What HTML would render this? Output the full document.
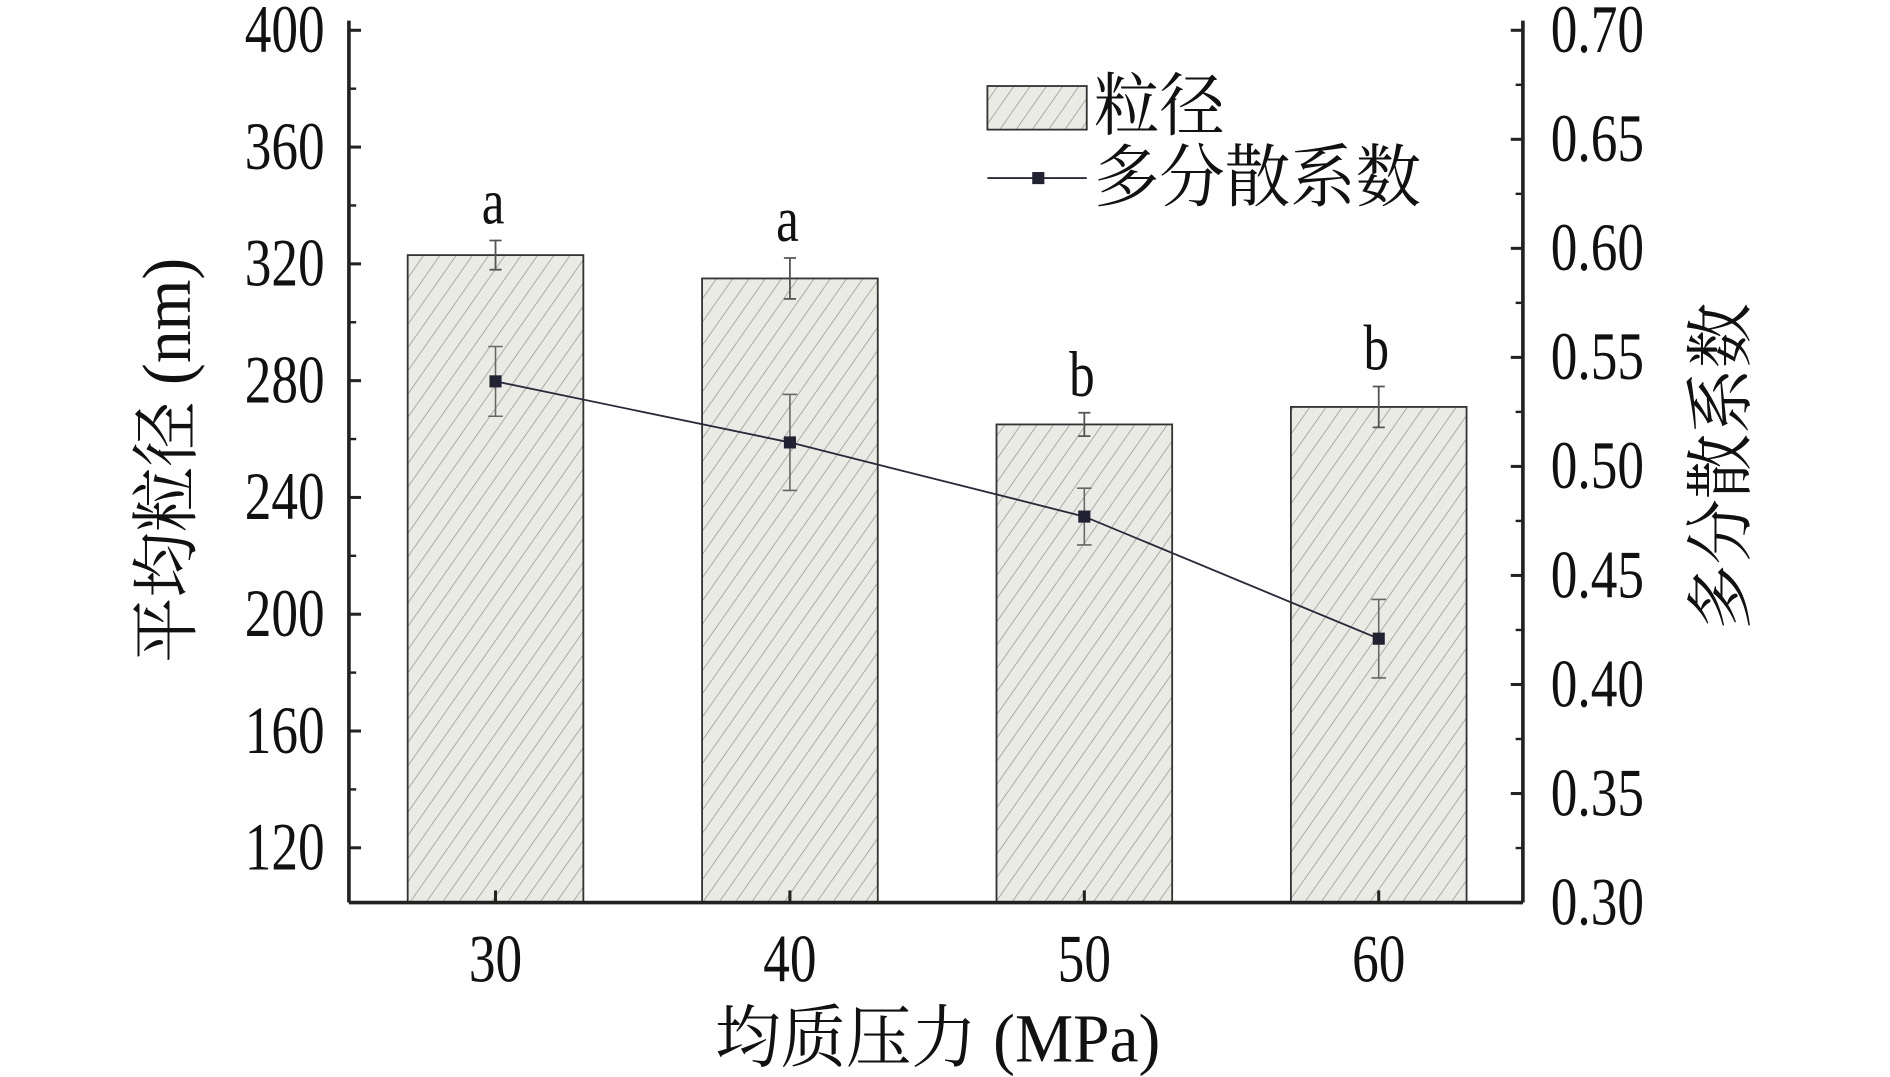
<!DOCTYPE html>
<html><head><meta charset="utf-8"><style>
html,body{margin:0;padding:0;background:#fff;}
svg{display:block;}
text{font-family:"Liberation Serif","Noto Serif CJK SC",serif;fill:#111;}
</style></head><body>
<svg id="chart" width="1890" height="1077" viewBox="0 0 1560 889" preserveAspectRatio="none" xmlns="http://www.w3.org/2000/svg">
<defs>
<pattern id="hatch" patternUnits="userSpaceOnUse" width="11" height="11" patternTransform="rotate(35)">
<rect width="11" height="11" fill="#ebebe6"/>
<line x1="0" y1="0" x2="0" y2="11" stroke="#9a9a96" stroke-width="1.3"/>
</pattern>
</defs>
<g id="plot"></g>
</svg>
<script>
const categories=["30","40","50","60"];
const sizeValues=[323,315,265,271];
const sizeErr=[5,7,4,7];
const pdiValues=[0.539,0.511,0.477,0.421];
const pdiErr=[0.016,0.022,0.013,0.018];
const letters=["a","a","b","b"];
const leftTicks=[120,160,200,240,280,320,360,400];
const rightTicks=[0.30,0.35,0.40,0.45,0.50,0.55,0.60,0.65,0.70];

const NS="http://www.w3.org/2000/svg";
const g=document.getElementById('plot');
const X0=288,X1=1257,Ytop=25,Ybot=745;
const yL=v=>748-(v-100)*(96.4/40);
const yR=v=>Ytop+(0.70-v)/0.40*(Ybot-Ytop);
const xC=i=>409+i*243;
const BW=145;
function mk(tag,attrs,name,txt){const e=document.createElementNS(NS,tag);for(const k in attrs)e.setAttribute(k,attrs[k]);


if(txt!==undefined)e.textContent=txt;g.appendChild(e);return e;}
function tx(x,y,size,anchor,name,txt,rot,sx,sy){
 const t=`translate(${x},${y})`+(rot?` rotate(${rot})`:'')+` scale(${sx||0.88},${sy||1.12})`;
 return mk('text',{x:0,y:0,'font-size':size,'text-anchor':anchor,transform:t},name,txt);
}

categories.forEach((c,i)=>{
 const y=yL(sizeValues[i]);
 mk('rect',{x:xC(i)-BW/2,y:y,width:BW,height:Ybot-y,fill:'url(#hatch)',stroke:'#333','stroke-width':1.5},'bar-'+c);
 const t=yL(sizeValues[i]+sizeErr[i]),b=yL(sizeValues[i]-sizeErr[i]);
 mk('path',{d:`M${xC(i)} ${t}V${b}M${xC(i)-5} ${t}H${xC(i)+5}M${xC(i)-5} ${b}H${xC(i)+5}`,stroke:'#555','stroke-width':1.5,fill:'none'},'size-error-bar-'+c);
 tx(xC(i)-2,t-14,48,'middle','significance-letter-'+c,letters[i]);
});
mk('polyline',{points:pdiValues.map((v,i)=>xC(i)+','+yR(v)).join(' '),fill:'none',stroke:'#2a2a3a','stroke-width':1.5},'pdi-line');
pdiValues.forEach((v,i)=>{
 const t=yR(v+pdiErr[i]),b=yR(v-pdiErr[i]);
 mk('path',{d:`M${xC(i)} ${t}V${b}M${xC(i)-6} ${t}H${xC(i)+6}M${xC(i)-6} ${b}H${xC(i)+6}`,stroke:'#666','stroke-width':1.3,fill:'none'},'pdi-error-bar-'+categories[i]);
 mk('rect',{x:xC(i)-5,y:yR(v)-5,width:10,height:10,fill:'#222233'},'pdi-point-'+categories[i]);
});
mk('line',{x1:X0,y1:Ytop-8,x2:X0,y2:Ybot,stroke:'#222','stroke-width':3},'left-axis');
mk('line',{x1:X1,y1:Ytop-8,x2:X1,y2:Ybot,stroke:'#222','stroke-width':3},'right-axis');
mk('line',{x1:X0,y1:Ybot,x2:X1,y2:Ybot,stroke:'#222','stroke-width':3},'x-axis');
leftTicks.forEach(v=>{
 mk('line',{x1:X0,y1:yL(v),x2:X0+10,y2:yL(v),stroke:'#222','stroke-width':2.5},'left-tick-'+v);
 mk('line',{x1:X0,y1:yL(v+20),x2:X0+6,y2:yL(v+20),stroke:'#222','stroke-width':2},'left-minor-tick');
 tx(268,yL(v)+18,50,'end','left-tick-label-'+v,String(v));
});
rightTicks.forEach(v=>{
 mk('line',{x1:X1,y1:yR(v),x2:X1-10,y2:yR(v),stroke:'#222','stroke-width':2.5},'right-tick');
 if(v<0.69)mk('line',{x1:X1,y1:yR(v+0.025),x2:X1-6,y2:yR(v+0.025),stroke:'#222','stroke-width':2},'right-minor-tick');
 tx(1280,yR(v)+18,50,'start','right-tick-label',v.toFixed(2));
});
categories.forEach((c,i)=>{
 mk('line',{x1:xC(i),y1:Ybot,x2:xC(i),y2:Ybot-10,stroke:'#222','stroke-width':2.5},'x-tick-'+c);
 tx(xC(i),810,50,'middle','x-tick-label-'+c,c);
});
tx(774,876,54,'middle','x-axis-title','均质压力 (MPa)',0,1,1.05);
tx(157,380,54,'middle','left-axis-title','平均粒径 (nm)',-90,1,1.05);
tx(1440,385,54,'middle','right-axis-title','多分散系数',-90,1,1.05);
mk('rect',{x:815,y:71,width:82,height:36,fill:'url(#hatch)',stroke:'#333','stroke-width':1.5},'legend-bar-swatch');
tx(903,107,54,'start','legend-bar-label','粒径',0,1,1.05);
mk('line',{x1:815,y1:147,x2:897,y2:147,stroke:'#2a2a3a','stroke-width':1.5},'legend-line-swatch');
mk('rect',{x:852,y:142,width:10,height:10,fill:'#222233'},'legend-line-marker');
tx(903,166,54,'start','legend-line-label','多分散系数',0,1,1.05);
</script>
</body></html>
